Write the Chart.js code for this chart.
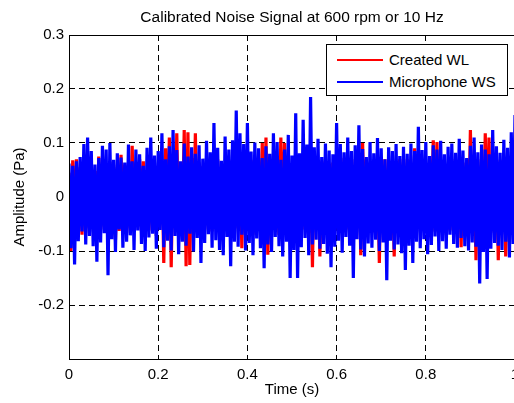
<!DOCTYPE html>
<html>
<head>
<meta charset="utf-8">
<script src="https://cdn.jsdelivr.net/npm/chart.js@4.4.1/dist/chart.umd.min.js"></script>
<style>
  html, body { margin: 0; padding: 0; background: #fff; overflow: hidden; }
  #wrap { position: relative; width: 514px; height: 403px; overflow: hidden; }
  #legend {
    position: absolute; left: 326px; top: 44px; width: 182px; height: 52px;
    box-sizing: border-box; border: 1px solid #000; background: #fff;
    font-family: "Liberation Sans", Arial, sans-serif; font-size: 15px; color: #000;
  }
  #legend .ln { position: absolute; left: 10px; width: 46px; height: 2px; }
  #legend .tx { position: absolute; left: 62px; line-height: 18px; white-space: nowrap; }
</style>
</head>
<body>
<div id="wrap">
  <canvas id="mycanvas" width="560" height="403" style="width:560px;height:403px"></canvas>
  <div id="legend"></div>
</div>
<script>
// signal sampled over 1 s
var sampleCount = 241;
var duration = 1.0;

var seriesNames = ['Created WL', 'Microphone WS'];
var seriesColors = ['#ff0000', '#0000ff'];

var xTicks = [0, 0.2, 0.4, 0.6, 0.8, 1];
var yTicks = [-0.2, -0.1, 0, 0.1, 0.2, 0.3];

// Created WL (Pa)
var createdWL = [
  0.045,-0.100,0.068,-0.060,0.070,-0.050,0.055,-0.070,0.060,-0.058,0.052,-0.066,
  0.070,-0.050,0.048,-0.062,0.075,-0.055,0.050,-0.060,0.058,-0.070,0.065,-0.052,
  0.060,-0.080,0.055,-0.063,0.078,-0.050,0.060,-0.067,0.052,-0.058,0.095,-0.060,
  0.064,-0.055,0.070,-0.064,0.066,-0.070,0.050,-0.062,0.068,-0.055,0.060,-0.072,
  0.058,-0.050,0.070,-0.122,0.090,-0.060,0.110,-0.130,0.070,-0.058,0.118,-0.066,
  0.050,-0.070,0.124,-0.128,0.120,-0.126,0.072,-0.060,0.118,-0.055,0.064,-0.070,
  0.058,-0.060,0.066,-0.052,0.070,-0.064,0.060,-0.058,0.070,-0.065,0.055,-0.070,
  0.062,-0.050,0.068,-0.062,0.056,-0.070,0.064,-0.058,0.070,-0.095,0.060,-0.066,
  0.052,-0.060,0.068,-0.070,0.055,-0.062,0.070,-0.058,0.100,-0.064,0.110,-0.107,
  0.066,-0.060,0.070,-0.055,0.064,-0.070,0.110,-0.062,0.100,-0.058,0.066,-0.070,
  0.055,-0.064,0.070,-0.060,0.062,-0.068,0.058,-0.060,0.070,-0.066,0.064,-0.130,
  0.068,-0.060,0.055,-0.110,0.066,-0.062,0.070,-0.058,0.060,-0.070,0.064,-0.055,
  0.070,-0.066,0.058,-0.064,0.072,-0.060,0.066,-0.070,0.060,-0.062,0.070,-0.058,
  0.066,-0.108,0.100,-0.064,0.070,-0.060,0.058,-0.066,0.070,-0.055,0.064,-0.122,
  0.066,-0.060,0.070,-0.064,0.058,-0.070,0.066,-0.110,0.060,-0.062,0.070,-0.058,
  0.064,-0.066,0.070,-0.060,0.058,-0.070,0.090,-0.064,0.066,-0.058,0.070,-0.062,
  0.060,-0.070,0.068,-0.058,0.105,-0.064,0.102,-0.066,0.070,-0.060,0.064,-0.070,
  0.058,-0.062,0.070,-0.066,0.060,-0.058,0.068,-0.093,0.064,-0.060,0.070,-0.066,
  0.124,-0.058,0.066,-0.117,0.070,-0.064,0.060,-0.070,0.118,-0.062,0.110,-0.066,
  0.070,-0.060,0.064,-0.117,0.068,-0.060,0.070,-0.110,0.062,-0.066,0.070,-0.058,
  0.064
];

// Microphone WS (Pa)
var microphoneWS = [
  0.062,-0.095,0.058,-0.125,0.066,-0.082,0.074,-0.064,0.098,-0.088,0.110,-0.072,
  0.085,-0.091,0.060,-0.120,0.072,-0.084,0.095,-0.067,0.088,-0.145,0.100,-0.078,
  0.069,-0.102,0.081,-0.060,0.073,-0.094,0.064,-0.083,0.097,-0.071,0.066,-0.098,
  0.088,-0.062,0.079,-0.087,0.058,-0.100,0.091,-0.075,0.110,-0.068,0.077,-0.096,
  0.085,-0.061,0.118,-0.093,0.070,-0.081,0.094,-0.099,0.124,-0.072,0.087,-0.106,
  0.066,-0.083,0.099,-0.090,0.075,-0.068,0.092,-0.101,0.080,-0.076,0.096,-0.122,
  0.071,-0.085,0.104,-0.069,0.083,-0.094,0.137,-0.080,0.091,-0.098,0.067,-0.108,
  0.112,-0.074,0.088,-0.128,0.105,-0.083,0.160,-0.092,0.118,-0.070,0.098,-0.099,
  0.137,-0.085,0.084,-0.108,0.101,-0.077,0.090,-0.095,0.072,-0.132,0.094,-0.088,
  0.080,-0.102,0.118,-0.074,0.102,-0.091,0.069,-0.110,0.088,-0.083,0.115,-0.150,
  0.077,-0.098,0.155,-0.150,0.081,-0.093,0.143,-0.076,0.097,-0.108,0.185,-0.088,
  0.092,-0.079,0.108,-0.096,0.074,-0.087,0.099,-0.105,0.086,-0.130,0.079,-0.092,
  0.137,-0.081,0.098,-0.103,0.083,-0.074,0.110,-0.090,0.085,-0.150,0.096,-0.078,
  0.133,-0.097,0.089,-0.110,0.074,-0.086,0.102,-0.094,0.081,-0.079,0.109,-0.100,
  0.090,-0.084,0.070,-0.154,0.092,-0.081,0.085,-0.097,0.098,-0.088,0.076,-0.104,
  0.093,-0.135,0.080,-0.090,0.099,-0.122,0.085,-0.083,0.130,-0.095,0.087,-0.078,
  0.102,-0.106,0.076,-0.089,0.096,-0.073,0.088,-0.100,0.104,-0.082,0.079,-0.096,
  0.093,-0.070,0.099,-0.087,0.082,-0.094,0.108,-0.076,0.086,-0.091,0.072,-0.099,
  0.095,-0.084,0.110,-0.092,0.083,-0.160,0.097,-0.102,0.088,-0.152,0.079,-0.096,
  0.124,-0.085,0.094,-0.090,0.082,-0.098,0.106,-0.083,0.091,-0.112,0.120,-0.087,
  0.152
];

var FONT = '"Liberation Sans", Arial, sans-serif';

function toPoints(values) {
  var pts = [];
  for (var i = 0; i < values.length; i++) {
    pts.push({ x: i * duration / (sampleCount - 1), y: values[i] });
  }
  return pts;
}

function useTicks(list) {
  return function(scale) {
    scale.ticks = list.map(function(v) { return { value: v }; });
  };
}

// black box round the plot area, like matlab axes
var frame = {
  id: 'frame',
  afterDatasetsDraw: function(chart) {
    var a = chart.chartArea;
    var ctx = chart.ctx;
    ctx.save();
    ctx.strokeStyle = '#000';
    ctx.lineWidth = 1;
    ctx.strokeRect(Math.round(a.left) + 0.5, Math.round(a.top) + 0.5,
      Math.round(a.right - a.left), Math.round(a.bottom - a.top));
    ctx.restore();
  }
};

var chartdata = {
  datasets: [
    {
      label: seriesNames[0],
      data: toPoints(createdWL),
      borderColor: seriesColors[0],
      backgroundColor: seriesColors[0],
      borderWidth: 3.2,
      pointRadius: 0,
      order: 2
    },
    {
      label: seriesNames[1],
      data: toPoints(microphoneWS),
      borderColor: seriesColors[1],
      backgroundColor: seriesColors[1],
      borderWidth: 3.2,
      pointRadius: 0,
      order: 1
    }
  ]
};

var ctx = document.getElementById('mycanvas');

var noiseChart = new Chart(ctx, {
  type: 'line',
  data: chartdata,
  plugins: [frame],
  options: {
    responsive: false,
    animation: false,
    devicePixelRatio: 1,
    parsing: false,
    layout: { padding: { left: 0, right: 45, top: 0, bottom: 0 } },
    plugins: {
      legend: { display: false },
      tooltip: { enabled: false },
      title: {
        display: true,
        fullSize: false,
        text: 'Calibrated Noise Signal at 600 rpm or 10 Hz',
        color: '#000',
        font: { family: FONT, size: 15.5, weight: 'normal' },
        padding: { top: 8.7, bottom: 7.7 }
      }
    },
    scales: {
      x: {
        type: 'linear',
        min: 0,
        max: 1,
        afterBuildTicks: useTicks(xTicks),
        afterFit: function(scale) { scale.height = 44; },
        grid: { color: '#000', lineWidth: 1, drawTicks: false },
        border: { display: false, dash: [6, 4] },
        ticks: {
          color: '#000',
          padding: 7,
          maxRotation: 0,
          font: { family: FONT, size: 15 },
          callback: function(v) { return String(Number(v.toFixed(1))); }
        },
        title: {
          display: true,
          text: 'Time (s)',
          color: '#000',
          font: { family: FONT, size: 15 },
          padding: { top: 0, bottom: 4 }
        }
      },
      y: {
        min: -0.3,
        max: 0.3,
        afterBuildTicks: useTicks(yTicks),
        afterFit: function(scale) { scale.width = 69; },
        grid: { color: '#000', lineWidth: 1, drawTicks: false },
        border: { display: false, dash: [6, 4] },
        ticks: {
          color: '#000',
          padding: 5,
          font: { family: FONT, size: 15 },
          callback: function(v) { return String(Number(v.toFixed(1))); }
        },
        title: {
          display: true,
          text: 'Amplitude (Pa)',
          color: '#000',
          font: { family: FONT, size: 15 },
          padding: { top: 11, bottom: 0 }
        }
      }
    }
  }
});

// legend box inside the plot, top right
var legend = document.getElementById('legend');
noiseChart.data.datasets.forEach(function(ds, k) {
  var ln = document.createElement('div');
  ln.className = 'ln';
  ln.style.top = (13.5 + k * 22.5) + 'px';
  ln.style.background = ds.borderColor;
  var tx = document.createElement('div');
  tx.className = 'tx';
  tx.style.top = (5.5 + k * 22.5) + 'px';
  tx.textContent = ds.label;
  legend.appendChild(ln);
  legend.appendChild(tx);
});
</script>
</body>
</html>
